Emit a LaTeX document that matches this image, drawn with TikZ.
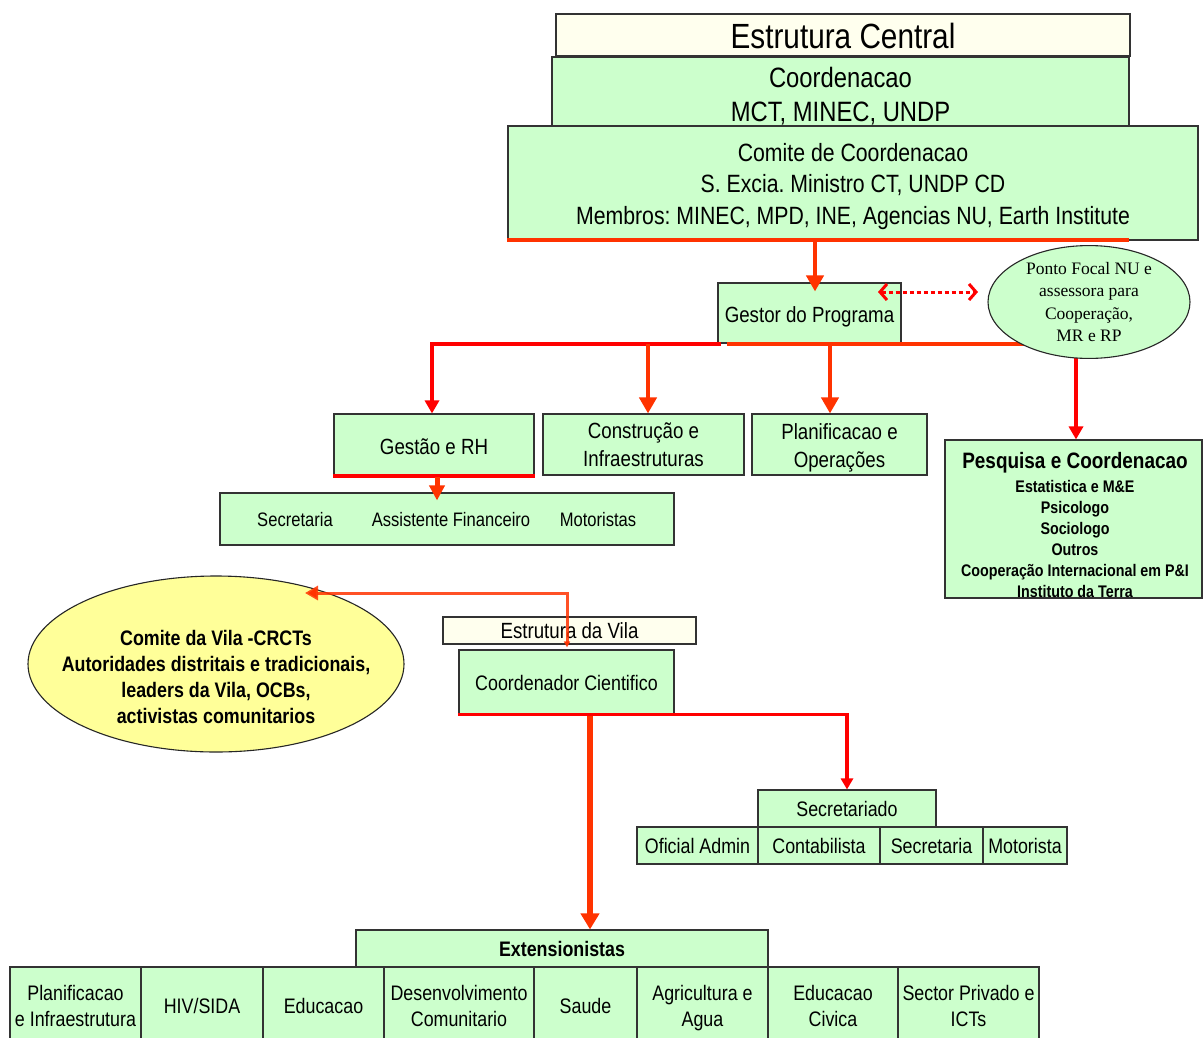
\documentclass[tikz,border=0pt]{standalone}
\usepackage{fontspec}
\setmainfont{Liberation Sans}[FakeStretch=0.85]
\newfontfamily\serifT{Liberation Serif}
\usetikzlibrary{arrows.meta,shapes.geometric}
\definecolor{gfill}{HTML}{CCFFCC}
\definecolor{cfill}{HTML}{FFFFEE}
\definecolor{yfill}{HTML}{FFFF99}
\definecolor{rA}{HTML}{FF0000}
\definecolor{rB}{HTML}{FF3300}
\begin{document}
\frenchspacing
\begin{tikzpicture}[x=1pt,y=-1pt,
  box/.style={draw=black!80, line width=1.1pt, inner sep=0pt, align=center, font=\fontsize{21}{26}\selectfont},
  gbox/.style={box, fill=gfill},
  cbox/.style={box, fill=cfill},
  ellbox/.style={ellipse, draw=black!85, line width=1.1pt, inner sep=0pt},
  txt/.style={inner sep=0pt, align=center, font=\fontsize{21}{26}\selectfont},
  tipL/.style={-{Triangle[width=17pt,length=16pt]}},
  tipM/.style={-{Triangle[width=14pt,length=13pt]}},
  tipS/.style={-{Triangle[width=12pt,length=11pt]}},
  conA/.style={rA, line width=4pt},
  conB/.style={rB, line width=4pt}
]
\useasboundingbox (0,0) rectangle (1203,1037);
\fill[white] (0,0) rectangle (1203,1037);

% ---------- central structure ----------
\node[gbox, minimum width=577, minimum height=78, font=\fontsize{28}{34}\selectfont] (coord) at (840.5,96) {Coordenacao\\MCT, MINEC, UNDP};
\node[cbox, minimum width=574, minimum height=42, font=\fontsize{35}{40}\selectfont] (ec) at (843,35) {\rule{0pt}{27pt}Estrutura Central};
\node[gbox, minimum width=690, minimum height=114, font=\fontsize{25}{31.5}\selectfont] (comite) at (853,183)
  {\rule{0pt}{25pt}Comite de Coordenacao\\S. Excia. Ministro CT, UNDP CD\\Membros: MINEC, MPD, INE, Agencias NU, Earth Institute};
\draw[conB] ([shift={(0,-1)}]comite.south west) -- ([shift={(-70,-1)}]comite.south east);

\node[gbox, minimum width=183, minimum height=60, font=\fontsize{22}{26}\selectfont] (gestor) at (809.5,313) {\rule{0pt}{23pt}Gestor do Programa};

\coordinate (j1) at (815,240);
\draw[conB, tipL, shorten >=-9pt] (j1) -- (j1 |- gestor.north);

% dotted double arrow
\coordinate (d1) at (878,292);
\coordinate (d2) at (978,292);
\draw[rA, line width=3pt, dash pattern=on 4pt off 3pt,
  {Straight Barb[width=16pt,length=7pt]}-{Straight Barb[width=16pt,length=7pt]}] (d1) -- (d2);

% second level boxes
\node[gbox, minimum width=200, minimum height=62, font=\fontsize{22}{26}\selectfont] (gestao) at (434,445) {\rule{0pt}{19pt}Gestão e RH};
\node[gbox, minimum width=201, minimum height=61, font=\fontsize{22}{28}\selectfont] (constr) at (643.5,444.5) {Construção e\\Infraestruturas};
\node[gbox, minimum width=175, minimum height=61, font=\fontsize{22}{28}\selectfont] (planif) at (839.5,444.5) {\rule{0pt}{22pt}Planificacao e\\Operações};
\node[gbox, minimum width=257, minimum height=158] (pesq) at (1073.5,519) {};
\node[txt, font=\bfseries\fontsize{16.8}{21}\selectfont] (pesqT) at (1075,525)
  {{\fontsize{22.3}{24}\selectfont Pesquisa e Coordenacao}\\[3pt]Estatistica e M\&E\\Psicologo\\Sociologo\\Outros\\Cooperação Internacional em P\&I\\Instituto da Terra};

% bus
\coordinate (b1) at (432,344);
\coordinate (bg) at (721,344);
\coordinate (bh) at (727,344);
\coordinate (be) at (1040,344);
\coordinate (b2) at (648,344);
\coordinate (b3) at (830,344);
\coordinate (b4) at (1076,344);
\draw[conA, {Triangle[width=14pt,length=13pt]}-] (b1 |- gestao.north) -- (b1) -- (bg);
\draw[conB] (bh) -- (be);
\draw[conB, tipL] (b2) -- (b2 |- constr.north);
\draw[conB, tipL] (b3) -- (b3 |- planif.north);
\draw[conA, tipM] (b4) -- (b4 |- pesq.north);

\node[ellbox, fill=gfill, minimum width=202, minimum height=106, align=center, font=\serifT\fontsize{17.5}{22.5}\selectfont] (ponto) at (1089,302)
  {Ponto Focal NU e\\assessora para\\Cooperação,\\MR e RP};

% Gestao staff row
\node[gbox, minimum width=454, minimum height=52] (secrow) at (447,519) {};
\node[txt, font=\fontsize{19.5}{24}\selectfont] (s1) at (295,520) {Secretaria};
\node[txt, font=\fontsize{19.5}{24}\selectfont] (s2) at (451,520) {Assistente Financeiro};
\node[txt, font=\fontsize{19.5}{24}\selectfont] (s3) at (598,520) {Motoristas};
\draw[conA] ([shift={(0,-1)}]gestao.south west) -- ([shift={(0,-1)}]gestao.south east);
\coordinate (g1) at (437,477);
\draw[rB, line width=5pt, -{Triangle[width=15pt,length=15pt]}, shorten >=-8pt] (g1) -- (g1 |- secrow.north);

% ---------- village structure ----------
\node[ellbox, fill=yfill, minimum width=376, minimum height=176] (vila) at (216,664) {};
\node[txt, font=\bfseries\fontsize{21}{26}\selectfont] (vilaT) at (216,677)
  {Comite da Vila -CRCTs\\Autoridades distritais e tradicionais,\\leaders da Vila, OCBs,\\activistas comunitarios};

\node[cbox, minimum width=253, minimum height=27, font=\fontsize{22}{26}\selectfont] (ev) at (569.5,630.5) {Estrutura da Vila};
\node[gbox, minimum width=215, minimum height=65] (cc) at (566.5,682.5) {Coordenador Cientifico};

\coordinate (vt) at (305,593);
\draw[rB, line width=3pt, draw opacity=0.85, {Triangle[width=6pt,length=6pt]}-{Triangle[width=14pt,length=13pt]}] ([shift={(0.5,-2)}]cc.north) |- (vt);

\node[gbox, minimum width=178, minimum height=37] (secd) at (847,808.5) {Secretariado};
\node[gbox, minimum width=121, minimum height=37] (oa) at (697.5,845.5) {Oficial Admin};
\node[gbox, minimum width=122, minimum height=37] (cont) at (819,845.5) {Contabilista};
\node[gbox, minimum width=103, minimum height=37] (secr) at (931.5,845.5) {Secretaria};
\node[gbox, minimum width=84, minimum height=37] (mot) at (1025,845.5) {Motorista};

\draw[rA, line width=3.5pt, tipS] ([shift={(0,-1)}]cc.south west) -| (secd.north);

\node[gbox, minimum width=412, minimum height=37, font=\bfseries\fontsize{21}{26}\selectfont] (ext) at (562,948.5) {Extensionistas};
\coordinate (ccb) at (590,716);
\draw[rB, line width=5.5pt, -{Triangle[width=18pt,length=16pt]}] (ccb) -- (ccb |- ext.north);

\node[gbox, minimum width=131, minimum height=78] (e1) at (75.5,1006) {Planificacao\\e Infraestrutura};
\node[gbox, minimum width=122, minimum height=78] (e2) at (202,1006) {HIV/SIDA};
\node[gbox, minimum width=121, minimum height=78] (e3) at (323.5,1006) {Educacao};
\node[gbox, minimum width=150, minimum height=78] (e4) at (459,1006) {Desenvolvimento\\Comunitario};
\node[gbox, minimum width=103, minimum height=78] (e5) at (585.5,1006) {Saude};
\node[gbox, minimum width=131, minimum height=78] (e6) at (702.5,1006) {\rule{0pt}{19pt}Agricultura e\\Agua};
\node[gbox, minimum width=130, minimum height=78] (e7) at (833,1006) {Educacao\\Civica};
\node[gbox, minimum width=141, minimum height=78] (e8) at (968.5,1006) {Sector Privado e\\ICTs};
\end{tikzpicture}
\end{document}
